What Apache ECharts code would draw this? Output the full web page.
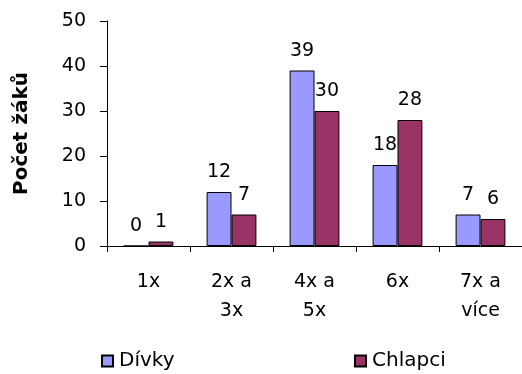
<!DOCTYPE html>
<html>
<head>
<meta charset="utf-8">
<script src="https://cdn.jsdelivr.net/npm/echarts@6/dist/echarts.min.js"></script>
<style>
  html, body { margin: 0; padding: 0; background: #fff; }
  #chart { width: 522px; height: 374px; }
</style>
</head>
<body>
<div id="chart"></div>
<script>
const categories = ["1x", "2x a\n3x", "4x a\n5x", "6x", "7x a\nvíce"];
const divky = [0, 12, 39, 18, 7];
const chlapci = [1, 7, 30, 28, 6];
const yTicks = { min: 0, max: 50, interval: 10 };

const FONT = "DejaVu Sans";
const chart = echarts.init(document.getElementById("chart"), null, { renderer: "canvas" });

const barLabel = {
  show: true,
  position: "top",
  distance: 10,
  color: "#000",
  fontFamily: FONT,
  fontSize: 19,
};

const legendText = { fontFamily: FONT, fontSize: 20, color: "#000", padding: [0, 0, 0, 1] };

chart.setOption({
  backgroundColor: "#fff",
  animation: false,
  textStyle: { fontFamily: FONT, color: "#000" },
  grid: { left: 107, top: 21, width: 417, bottom: 128 },
  legend: [
    {
      data: ["Dívky"],
      left: 96,
      top: 346,
      icon: "rect",
      itemWidth: 11,
      itemHeight: 11,
      textStyle: legendText,
    },
    {
      data: ["Chlapci"],
      left: 349,
      top: 346,
      icon: "rect",
      itemWidth: 11,
      itemHeight: 11,
      textStyle: legendText,
    },
  ],
  xAxis: {
    type: "category",
    data: categories,
    axisLine: { lineStyle: { color: "#000", width: 1 } },
    axisTick: { show: true, length: 6, lineStyle: { color: "#000" } },
    axisLabel: {
      color: "#000",
      fontFamily: FONT,
      fontSize: 19,
      lineHeight: 29,
      margin: 22,
      interval: 0,
    },
  },
  yAxis: {
    type: "value",
    min: yTicks.min,
    max: yTicks.max,
    interval: yTicks.interval,
    name: "Počet žáků",
    nameLocation: "middle",
    nameRotate: 90,
    nameGap: 75,
    nameTextStyle: { fontFamily: FONT, fontSize: 20, fontWeight: "bold", color: "#000" },
    axisLine: { show: true, lineStyle: { color: "#000", width: 1 } },
    axisTick: { show: true, length: 7, lineStyle: { color: "#000" } },
    axisLabel: { color: "#000", fontFamily: FONT, fontSize: 19, margin: 21 },
    splitLine: { show: false },
  },
  series: [
    {
      name: "Dívky",
      type: "bar",
      data: divky,
      barGap: "0%",
      barCategoryGap: "40%",
      itemStyle: { color: "#9999FF", borderColor: "#000", borderWidth: 1 },
      label: barLabel,
    },
    {
      name: "Chlapci",
      type: "bar",
      data: chlapci,
      itemStyle: { color: "#993366", borderColor: "#000", borderWidth: 1 },
      label: barLabel,
    },
  ],
});
</script>
</body>
</html>
